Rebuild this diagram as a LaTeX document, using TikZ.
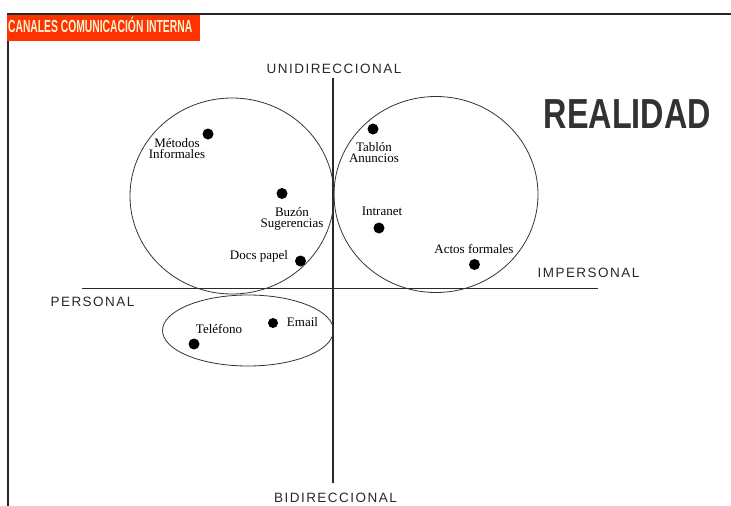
\documentclass[tikz,border=0pt]{standalone}
\usepackage{fontspec}
\setmainfont{Liberation Serif}
\newfontfamily\axisfont[LetterSpace=11]{Liberation Sans}
\newfontfamily\headfont{Liberation Sans}
\definecolor{titlered}{RGB}{255,51,0}
\definecolor{titletext}{RGB}{250,244,210}
\definecolor{axisgray}{RGB}{40,40,40}
\definecolor{realgray}{RGB}{50,50,50}
\tikzset{
  dot/.style={circle,fill=black,inner sep=0pt,minimum size=11pt},
  lbl/.style={inner sep=0pt,align=center,font=\fontsize{13}{11.5}\selectfont},
  axislbl/.style={inner sep=0pt,font=\axisfont\fontsize{13.5}{14}\selectfont,text=axisgray},
  axisline/.style={draw=axisgray,line width=1.1pt},
  group/.style={draw=black!80,line width=0.8pt}
}
\begin{document}
\begin{tikzpicture}[x=1pt,y=-1pt]
\useasboundingbox (0,0) rectangle (731,506);
% frame
\draw[line width=1.6pt,draw=black!85] (8,506) -- (8,14) -- (731,14);
% title
\fill[titlered] (7,15) rectangle (200,41);
\node[anchor=base west,inner sep=0pt,xscale=0.59,text=titletext,font=\headfont\bfseries\fontsize{17.5}{18}\selectfont] (title) at (8,32.5) {CANALES COMUNICACIÓN INTERNA};
% axes
\coordinate (vtop) at (333,78);
\coordinate (vbot) at (333,483);
\coordinate (hleft) at (82,288.5);
\coordinate (hright) at (598,288.5);
\draw[axisline] (vtop) -- (vbot);
\draw[axisline] (hleft) -- (hright);
% groups
\draw[group] (232,196) ellipse [x radius=102, y radius=98];
\draw[group] (436,194.5) ellipse [x radius=102, y radius=98];
\draw[group] (248,330.5) ellipse [x radius=85.5, y radius=35.5];
% axis labels
\node[axislbl] (uni) at (334,69) {UNIDIRECCIONAL};
\node[axislbl] (bi) at (335.5,497.5) {BIDIRECCIONAL};
\node[axislbl] (pers) at (92.5,302) {PERSONAL};
\node[axislbl] (imp) at (588.5,272.5) {IMPERSONAL};
\node[inner sep=0pt,xscale=0.77,text=realgray,font=\headfont\bfseries\fontsize{42}{44}\selectfont] (real) at (627.5,114) {REALIDAD};
% points
\node[dot] (metodos) at (208,134) {};
\node[lbl] (metodosl) at (177,148.5) {Métodos\\Informales};
\node[dot] (buzon) at (282,193.5) {};
\node[lbl] (buzonl) at (292,219) {Buzón\\Sugerencias};
\node[dot] (docs) at (300.5,261) {};
\node[lbl] (docsl) at (259,256.5) {Docs papel};
\node[dot] (tablon) at (373,129) {};
\node[lbl] (tablonl) at (374,152.5) {Tablón\\Anuncios};
\node[dot] (intranet) at (379,228) {};
\node[lbl] (intranetl) at (382,211) {Intranet};
\node[dot] (actos) at (474.5,264.5) {};
\node[lbl] (actosl) at (474,249) {Actos formales};
\node[dot] (telefono) at (194,344) {};
\node[lbl] (telefonol) at (219,329) {Teléfono};
\node[dot,minimum size=10pt] (email) at (273,323) {};
\node[lbl] (emaill) at (302.5,322.5) {Email};
\end{tikzpicture}
\end{document}
